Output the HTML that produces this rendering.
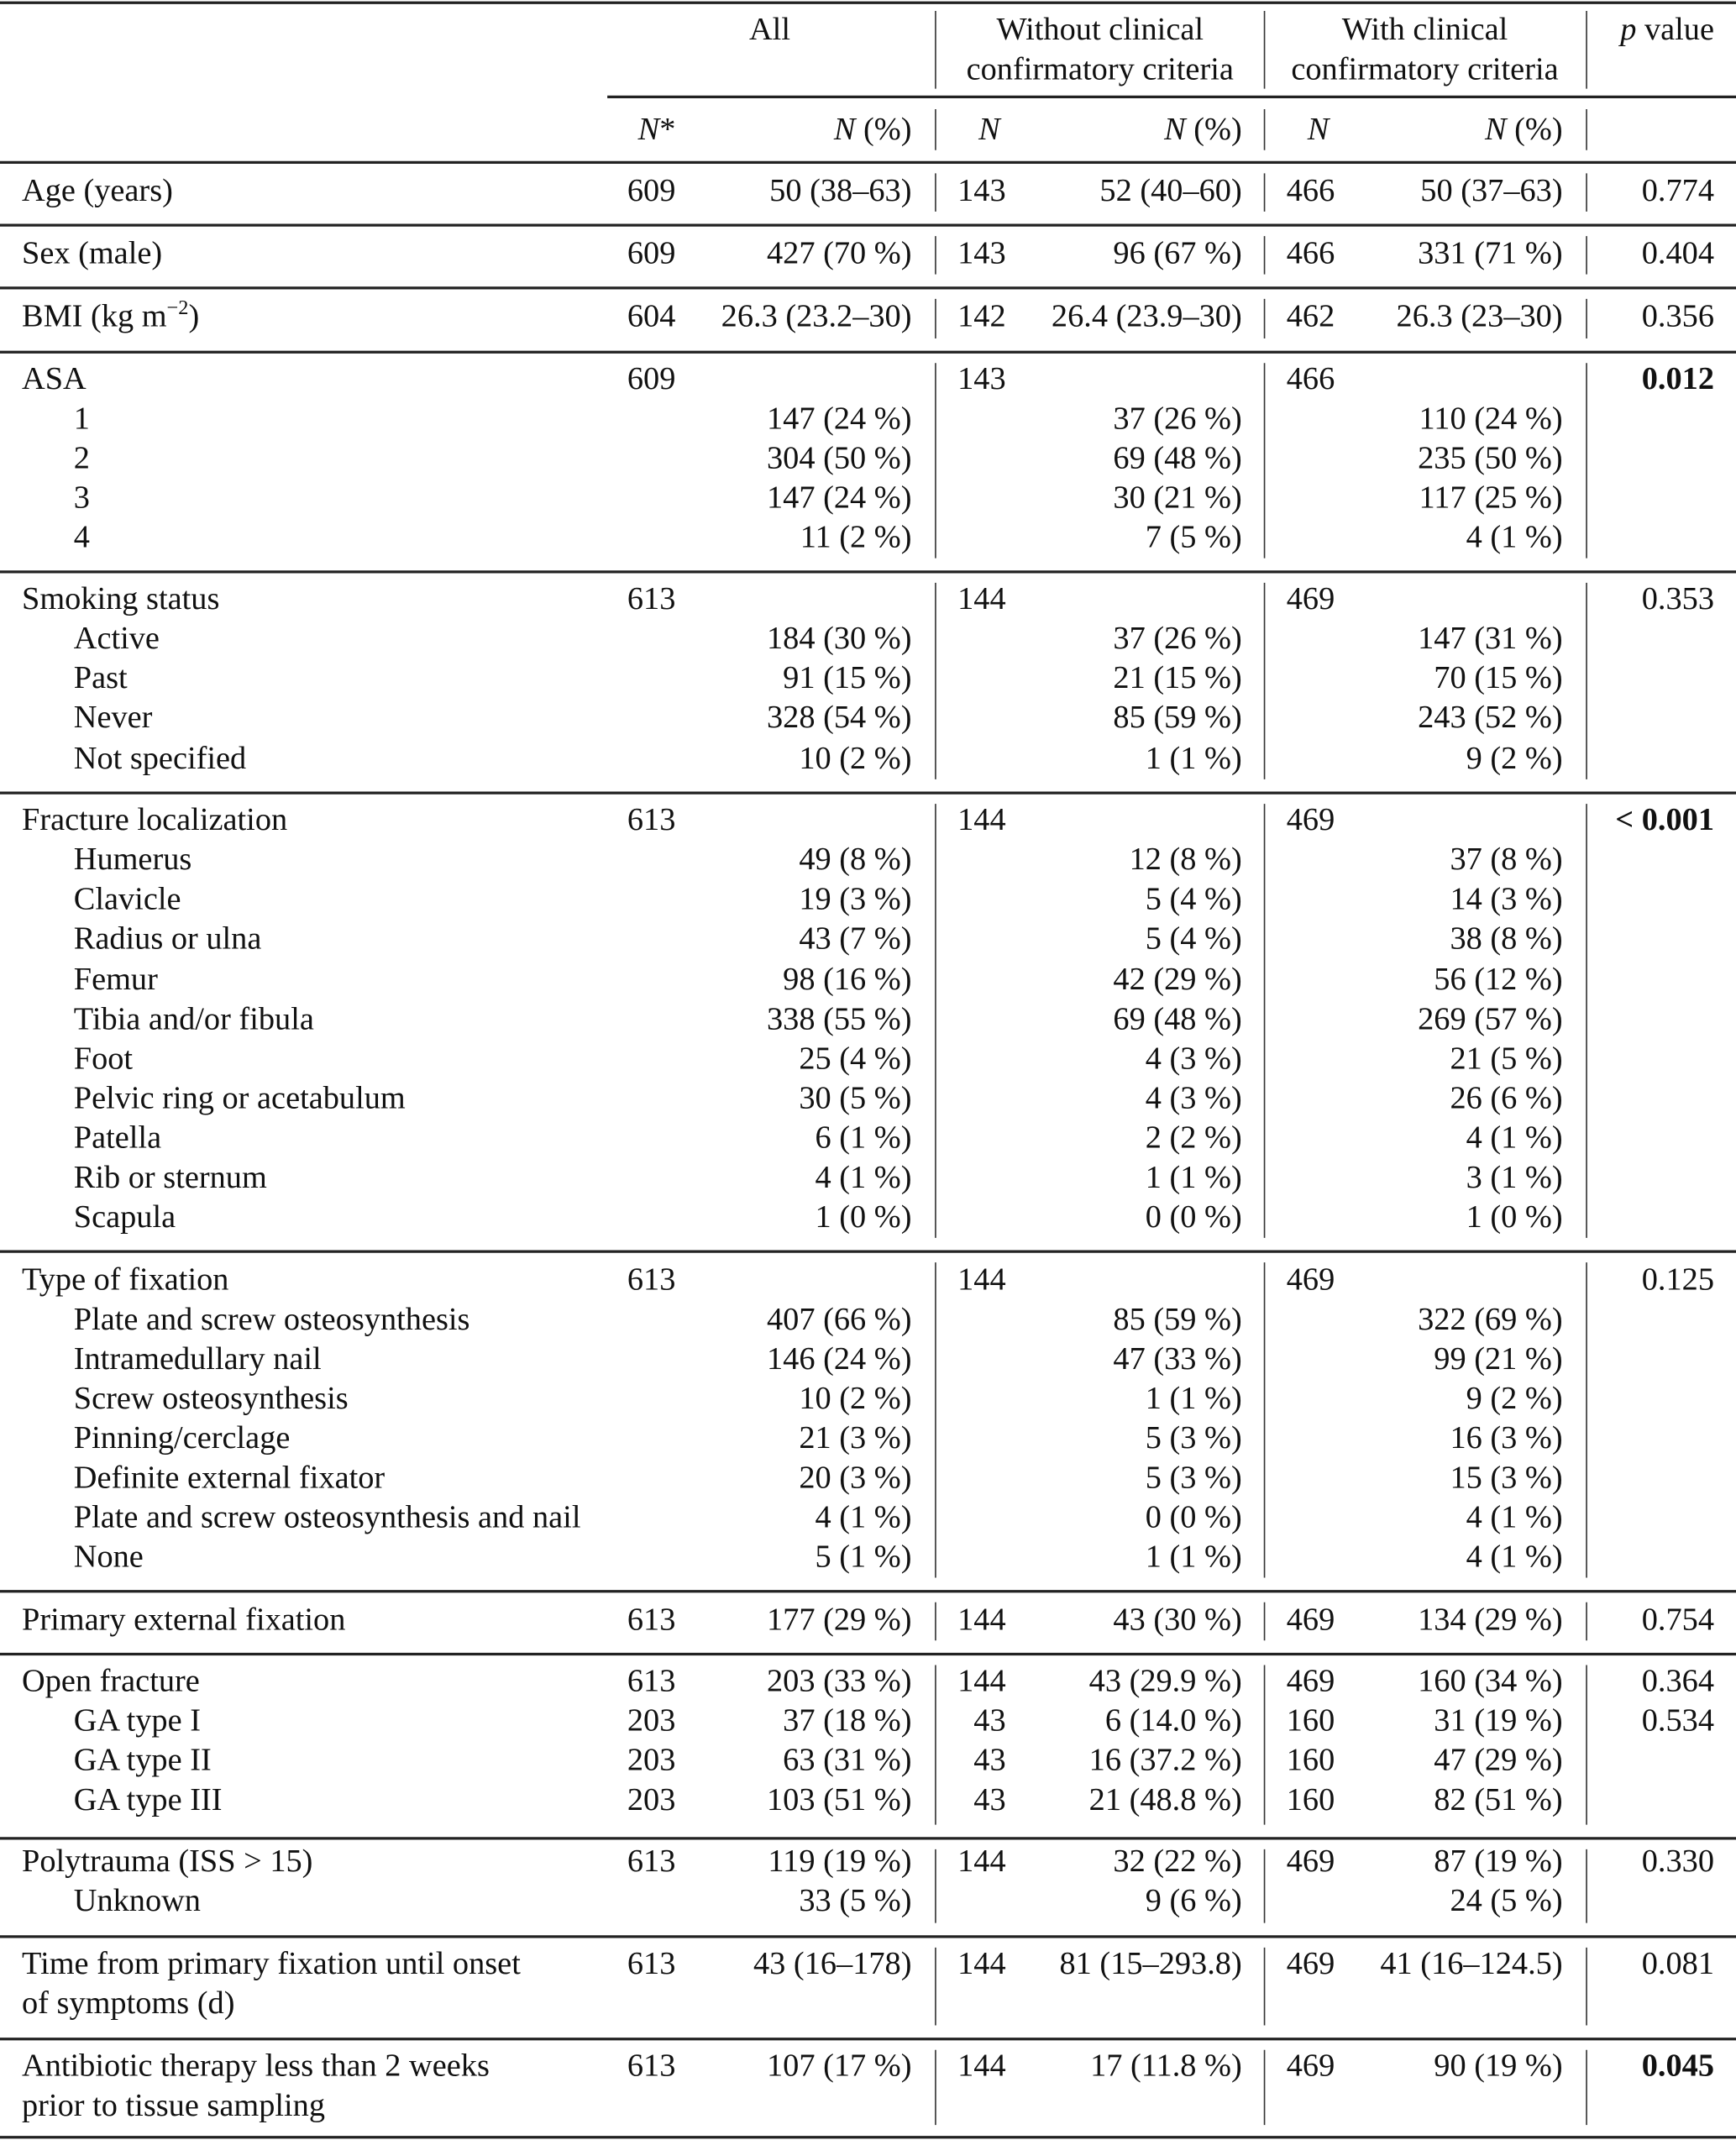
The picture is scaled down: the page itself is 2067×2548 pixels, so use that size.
<!DOCTYPE html>
<html><head><meta charset="utf-8"><style>
html,body{margin:0;padding:0;background:#fff;}
body{width:2067px;height:2547px;overflow:hidden;position:relative;}
#t{position:absolute;left:0;top:0;width:1272px;height:1568px;transform:scale(1.625);transform-origin:0 0;font-family:"Liberation Serif",serif;font-size:23.6px;color:#111;}
.r{position:absolute;left:0;width:1272px;height:24px;line-height:24px;white-space:nowrap;}
.r span{position:absolute;top:0;}
.l{left:16px}.li{left:54px}
.a{right:777px}.b{right:604px}.c{right:535px}.d{right:362px}.e{right:294px}.f{right:127px}.g{right:16px}
.h{position:absolute;left:0;width:1272px;height:1.5px;background:#222;}
.v{position:absolute;width:1px;background:#333;}
i{font-style:italic}b{font-weight:bold}
.ctr{text-align:center;transform:translateX(-50%);}
</style></head><body><div id="t">
<div class="h" style="top:1px"></div>
<div class="h" style="top:70px;left:445px;width:827px"></div>
<div class="h" style="top:118px"></div>
<div class="h" style="top:164px"></div>
<div class="h" style="top:210px"></div>
<div class="h" style="top:257px"></div>
<div class="h" style="top:418px"></div>
<div class="h" style="top:580px"></div>
<div class="h" style="top:916px"></div>
<div class="h" style="top:1165px"></div>
<div class="h" style="top:1211px"></div>
<div class="h" style="top:1346px"></div>
<div class="h" style="top:1418px"></div>
<div class="h" style="top:1493px"></div>
<div class="h" style="top:1565px"></div>

<div class="v" style="left:685px;top:8px;height:57px"></div><div class="v" style="left:926px;top:8px;height:57px"></div><div class="v" style="left:1162px;top:8px;height:57px"></div>
<div class="v" style="left:685px;top:80px;height:30px"></div><div class="v" style="left:926px;top:80px;height:30px"></div><div class="v" style="left:1162px;top:80px;height:30px"></div>
<div class="v" style="left:685px;top:127px;height:28px"></div><div class="v" style="left:926px;top:127px;height:28px"></div><div class="v" style="left:1162px;top:127px;height:28px"></div>
<div class="v" style="left:685px;top:173px;height:28px"></div><div class="v" style="left:926px;top:173px;height:28px"></div><div class="v" style="left:1162px;top:173px;height:28px"></div>
<div class="v" style="left:685px;top:219px;height:29px"></div><div class="v" style="left:926px;top:219px;height:29px"></div><div class="v" style="left:1162px;top:219px;height:29px"></div>
<div class="v" style="left:685px;top:266px;height:143px"></div><div class="v" style="left:926px;top:266px;height:143px"></div><div class="v" style="left:1162px;top:266px;height:143px"></div>
<div class="v" style="left:685px;top:427px;height:144px"></div><div class="v" style="left:926px;top:427px;height:144px"></div><div class="v" style="left:1162px;top:427px;height:144px"></div>
<div class="v" style="left:685px;top:589px;height:318px"></div><div class="v" style="left:926px;top:589px;height:318px"></div><div class="v" style="left:1162px;top:589px;height:318px"></div>
<div class="v" style="left:685px;top:925px;height:231px"></div><div class="v" style="left:926px;top:925px;height:231px"></div><div class="v" style="left:1162px;top:925px;height:231px"></div>
<div class="v" style="left:685px;top:1174px;height:28px"></div><div class="v" style="left:926px;top:1174px;height:28px"></div><div class="v" style="left:1162px;top:1174px;height:28px"></div>
<div class="v" style="left:685px;top:1220px;height:117px"></div><div class="v" style="left:926px;top:1220px;height:117px"></div><div class="v" style="left:1162px;top:1220px;height:117px"></div>
<div class="v" style="left:685px;top:1355px;height:54px"></div><div class="v" style="left:926px;top:1355px;height:54px"></div><div class="v" style="left:1162px;top:1355px;height:54px"></div>
<div class="v" style="left:685px;top:1427px;height:57px"></div><div class="v" style="left:926px;top:1427px;height:57px"></div><div class="v" style="left:1162px;top:1427px;height:57px"></div>
<div class="v" style="left:685px;top:1502px;height:55px"></div><div class="v" style="left:926px;top:1502px;height:55px"></div><div class="v" style="left:1162px;top:1502px;height:55px"></div>

<div class="r" style="top:10px"><span class="ctr" style="left:564px">All</span><span class="ctr" style="left:806px">Without clinical</span><span class="ctr" style="left:1044px">With clinical</span><span class="g"><i>p</i> value</span></div>
<div class="r" style="top:39px"><span class="ctr" style="left:806px">confirmatory criteria</span><span class="ctr" style="left:1044px">confirmatory criteria</span></div>
<div class="r" style="top:83px"><span class="a"><i>N</i>*</span><span class="b"><i>N</i> (%)</span><span style="left:717px"><i>N</i></span><span class="d"><i>N</i> (%)</span><span style="left:958px"><i>N</i></span><span class="f"><i>N</i> (%)</span></div>

<div class="r" style="top:128px"><span class="l">Age (years)</span><span class="a">609</span><span class="b">50 (38–63)</span><span class="c">143</span><span class="d">52 (40–60)</span><span class="e">466</span><span class="f">50 (37–63)</span><span class="g">0.774</span></div>
<div class="r" style="top:174px"><span class="l">Sex (male)</span><span class="a">609</span><span class="b">427 (70 %)</span><span class="c">143</span><span class="d">96 (67 %)</span><span class="e">466</span><span class="f">331 (71 %)</span><span class="g">0.404</span></div>
<div class="r" style="top:220px"><span class="l">BMI (kg m<sup style="font-size:15px;line-height:0">−2</sup>)</span><span class="a">604</span><span class="b">26.3 (23.2–30)</span><span class="c">142</span><span class="d">26.4 (23.9–30)</span><span class="e">462</span><span class="f">26.3 (23–30)</span><span class="g">0.356</span></div>

<div class="r" style="top:266px"><span class="l">ASA</span><span class="a">609</span><span class="c">143</span><span class="e">466</span><span class="g"><b>0.012</b></span></div>
<div class="r" style="top:295px"><span class="li">1</span><span class="b">147 (24 %)</span><span class="d">37 (26 %)</span><span class="f">110 (24 %)</span></div>
<div class="r" style="top:324px"><span class="li">2</span><span class="b">304 (50 %)</span><span class="d">69 (48 %)</span><span class="f">235 (50 %)</span></div>
<div class="r" style="top:353px"><span class="li">3</span><span class="b">147 (24 %)</span><span class="d">30 (21 %)</span><span class="f">117 (25 %)</span></div>
<div class="r" style="top:382px"><span class="li">4</span><span class="b">11 (2 %)</span><span class="d">7 (5 %)</span><span class="f">4 (1 %)</span></div>

<div class="r" style="top:427px"><span class="l">Smoking status</span><span class="a">613</span><span class="c">144</span><span class="e">469</span><span class="g">0.353</span></div>
<div class="r" style="top:456px"><span class="li">Active</span><span class="b">184 (30 %)</span><span class="d">37 (26 %)</span><span class="f">147 (31 %)</span></div>
<div class="r" style="top:485px"><span class="li">Past</span><span class="b">91 (15 %)</span><span class="d">21 (15 %)</span><span class="f">70 (15 %)</span></div>
<div class="r" style="top:514px"><span class="li">Never</span><span class="b">328 (54 %)</span><span class="d">85 (59 %)</span><span class="f">243 (52 %)</span></div>
<div class="r" style="top:544px"><span class="li">Not specified</span><span class="b">10 (2 %)</span><span class="d">1 (1 %)</span><span class="f">9 (2 %)</span></div>

<div class="r" style="top:589px"><span class="l">Fracture localization</span><span class="a">613</span><span class="c">144</span><span class="e">469</span><span class="g"><b>&lt; 0.001</b></span></div>
<div class="r" style="top:618px"><span class="li">Humerus</span><span class="b">49 (8 %)</span><span class="d">12 (8 %)</span><span class="f">37 (8 %)</span></div>
<div class="r" style="top:647px"><span class="li">Clavicle</span><span class="b">19 (3 %)</span><span class="d">5 (4 %)</span><span class="f">14 (3 %)</span></div>
<div class="r" style="top:676px"><span class="li">Radius or ulna</span><span class="b">43 (7 %)</span><span class="d">5 (4 %)</span><span class="f">38 (8 %)</span></div>
<div class="r" style="top:706px"><span class="li">Femur</span><span class="b">98 (16 %)</span><span class="d">42 (29 %)</span><span class="f">56 (12 %)</span></div>
<div class="r" style="top:735px"><span class="li">Tibia and/or fibula</span><span class="b">338 (55 %)</span><span class="d">69 (48 %)</span><span class="f">269 (57 %)</span></div>
<div class="r" style="top:764px"><span class="li">Foot</span><span class="b">25 (4 %)</span><span class="d">4 (3 %)</span><span class="f">21 (5 %)</span></div>
<div class="r" style="top:793px"><span class="li">Pelvic ring or acetabulum</span><span class="b">30 (5 %)</span><span class="d">4 (3 %)</span><span class="f">26 (6 %)</span></div>
<div class="r" style="top:822px"><span class="li">Patella</span><span class="b">6 (1 %)</span><span class="d">2 (2 %)</span><span class="f">4 (1 %)</span></div>
<div class="r" style="top:851px"><span class="li">Rib or sternum</span><span class="b">4 (1 %)</span><span class="d">1 (1 %)</span><span class="f">3 (1 %)</span></div>
<div class="r" style="top:880px"><span class="li">Scapula</span><span class="b">1 (0 %)</span><span class="d">0 (0 %)</span><span class="f">1 (0 %)</span></div>

<div class="r" style="top:926px"><span class="l">Type of fixation</span><span class="a">613</span><span class="c">144</span><span class="e">469</span><span class="g">0.125</span></div>
<div class="r" style="top:955px"><span class="li">Plate and screw osteosynthesis</span><span class="b">407 (66 %)</span><span class="d">85 (59 %)</span><span class="f">322 (69 %)</span></div>
<div class="r" style="top:984px"><span class="li">Intramedullary nail</span><span class="b">146 (24 %)</span><span class="d">47 (33 %)</span><span class="f">99 (21 %)</span></div>
<div class="r" style="top:1013px"><span class="li">Screw osteosynthesis</span><span class="b">10 (2 %)</span><span class="d">1 (1 %)</span><span class="f">9 (2 %)</span></div>
<div class="r" style="top:1042px"><span class="li">Pinning/cerclage</span><span class="b">21 (3 %)</span><span class="d">5 (3 %)</span><span class="f">16 (3 %)</span></div>
<div class="r" style="top:1071px"><span class="li">Definite external fixator</span><span class="b">20 (3 %)</span><span class="d">5 (3 %)</span><span class="f">15 (3 %)</span></div>
<div class="r" style="top:1100px"><span class="li">Plate and screw osteosynthesis and nail</span><span class="b">4 (1 %)</span><span class="d">0 (0 %)</span><span class="f">4 (1 %)</span></div>
<div class="r" style="top:1129px"><span class="li">None</span><span class="b">5 (1 %)</span><span class="d">1 (1 %)</span><span class="f">4 (1 %)</span></div>

<div class="r" style="top:1175px"><span class="l">Primary external fixation</span><span class="a">613</span><span class="b">177 (29 %)</span><span class="c">144</span><span class="d">43 (30 %)</span><span class="e">469</span><span class="f">134 (29 %)</span><span class="g">0.754</span></div>

<div class="r" style="top:1220px"><span class="l">Open fracture</span><span class="a">613</span><span class="b">203 (33 %)</span><span class="c">144</span><span class="d">43 (29.9 %)</span><span class="e">469</span><span class="f">160 (34 %)</span><span class="g">0.364</span></div>
<div class="r" style="top:1249px"><span class="li">GA type I</span><span class="a">203</span><span class="b">37 (18 %)</span><span class="c">43</span><span class="d">6 (14.0 %)</span><span class="e">160</span><span class="f">31 (19 %)</span><span class="g">0.534</span></div>
<div class="r" style="top:1278px"><span class="li">GA type II</span><span class="a">203</span><span class="b">63 (31 %)</span><span class="c">43</span><span class="d">16 (37.2 %)</span><span class="e">160</span><span class="f">47 (29 %)</span></div>
<div class="r" style="top:1307px"><span class="li">GA type III</span><span class="a">203</span><span class="b">103 (51 %)</span><span class="c">43</span><span class="d">21 (48.8 %)</span><span class="e">160</span><span class="f">82 (51 %)</span></div>

<div class="r" style="top:1352px"><span class="l">Polytrauma (ISS &gt; 15)</span><span class="a">613</span><span class="b">119 (19 %)</span><span class="c">144</span><span class="d">32 (22 %)</span><span class="e">469</span><span class="f">87 (19 %)</span><span class="g">0.330</span></div>
<div class="r" style="top:1381px"><span class="li">Unknown</span><span class="b">33 (5 %)</span><span class="d">9 (6 %)</span><span class="f">24 (5 %)</span></div>

<div class="r" style="top:1427px"><span class="l">Time from primary fixation until onset</span><span class="a">613</span><span class="b">43 (16–178)</span><span class="c">144</span><span class="d">81 (15–293.8)</span><span class="e">469</span><span class="f">41 (16–124.5)</span><span class="g">0.081</span></div>
<div class="r" style="top:1456px"><span class="l">of symptoms (d)</span></div>

<div class="r" style="top:1502px"><span class="l">Antibiotic therapy less than 2 weeks</span><span class="a">613</span><span class="b">107 (17 %)</span><span class="c">144</span><span class="d">17 (11.8 %)</span><span class="e">469</span><span class="f">90 (19 %)</span><span class="g"><b>0.045</b></span></div>
<div class="r" style="top:1531px"><span class="l">prior to tissue sampling</span></div>
</div></body></html>
